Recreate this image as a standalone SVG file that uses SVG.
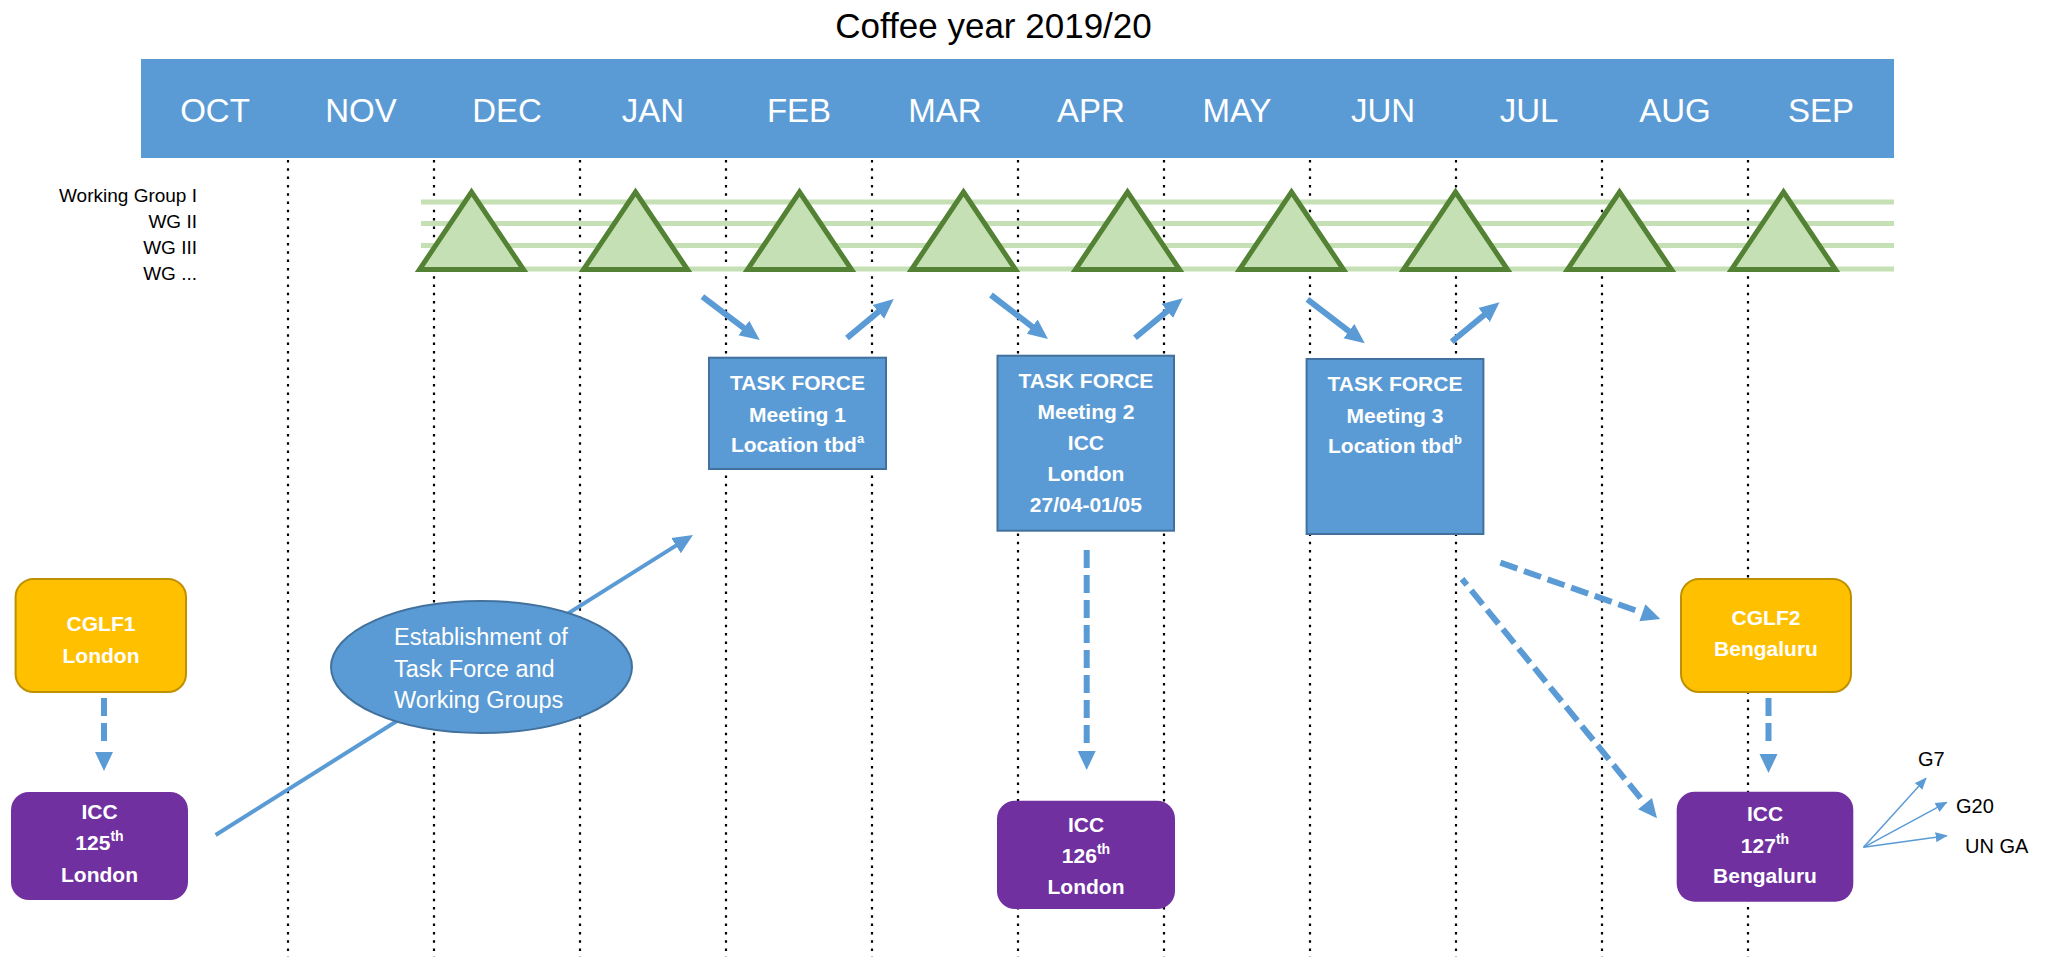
<svg xmlns="http://www.w3.org/2000/svg" width="2048" height="957" viewBox="0 0 2048 957">
<style>
text{font-family:"Liberation Sans",Arial,sans-serif}
.t{font-size:35px;fill:#000}
.m{font-size:33px;fill:#fff;text-anchor:middle}
.wg{font-size:19px;fill:#000;text-anchor:end}
.dot{stroke:#000;stroke-width:2.2;stroke-dasharray:2.5 5.8;fill:none}
.gl{stroke:#C5E0B4;stroke-width:5;fill:none}
.tri{fill:#C5E0B4;stroke:#548235;stroke-width:5;stroke-linejoin:miter}
.bx{font-size:21px;font-weight:bold;fill:#fff;text-anchor:middle}
.el{font-size:23.5px;fill:#fff}
.lab{font-size:20px;fill:#000}
.sa{stroke:#5B9BD5;stroke-width:6;fill:none;marker-end:url(#ah)}
.la{stroke:#5B9BD5;stroke-width:4;fill:none;marker-end:url(#ah)}
.da{stroke:#5B9BD5;stroke-width:6;fill:none;stroke-dasharray:18 7;marker-end:url(#dh)}
.ta{stroke:#5B9BD5;stroke-width:1.5;fill:none;marker-end:url(#th)}
.tf{fill:#5B9BD5;stroke:#41719C;stroke-width:2}
.icc{fill:#7030A0}
.cg{fill:#FFC000;stroke:#BF9000;stroke-width:2}
</style>
<defs>
<marker id="ah" markerUnits="userSpaceOnUse" viewBox="0 0 20 20" markerWidth="20" markerHeight="20" refX="6" refY="10" orient="auto">
<path d="M0,1 L20,10 L0,19 z" fill="#5B9BD5"/>
</marker>
<marker id="dh" markerUnits="userSpaceOnUse" viewBox="0 0 26 20" markerWidth="26" markerHeight="20" refX="0" refY="10" orient="auto">
<path d="M7,1 L26,10 L7,19 z" fill="#5B9BD5"/>
</marker>
<marker id="th" markerUnits="userSpaceOnUse" viewBox="0 0 12 10" markerWidth="12" markerHeight="10" refX="11" refY="5" orient="auto">
<path d="M0,0 L12,5 L0,10 z" fill="#5B9BD5"/>
</marker>
</defs>
<rect width="2048" height="957" fill="#fff"/>
<text class="t" x="993.5" y="37.5" text-anchor="middle">Coffee year 2019/20</text>
<g id="timeline">
<rect x="141" y="59" width="1753" height="99" fill="#5B9BD5"/>
<text class="m" x="215" y="121.5">OCT</text>
<text class="m" x="361" y="121.5">NOV</text>
<text class="m" x="507" y="121.5">DEC</text>
<text class="m" x="653" y="121.5">JAN</text>
<text class="m" x="799" y="121.5">FEB</text>
<text class="m" x="945" y="121.5">MAR</text>
<text class="m" x="1091" y="121.5">APR</text>
<text class="m" x="1237" y="121.5">MAY</text>
<text class="m" x="1383" y="121.5">JUN</text>
<text class="m" x="1529" y="121.5">JUL</text>
<text class="m" x="1675" y="121.5">AUG</text>
<text class="m" x="1821" y="121.5">SEP</text>
</g>
<g id="gridlines">
<line class="dot" x1="288" y1="160" x2="288" y2="957"/>
<line class="dot" x1="434" y1="160" x2="434" y2="957"/>
<line class="dot" x1="580" y1="160" x2="580" y2="957"/>
<line class="dot" x1="726" y1="160" x2="726" y2="957"/>
<line class="dot" x1="872" y1="160" x2="872" y2="957"/>
<line class="dot" x1="1018" y1="160" x2="1018" y2="957"/>
<line class="dot" x1="1164" y1="160" x2="1164" y2="957"/>
<line class="dot" x1="1310" y1="160" x2="1310" y2="957"/>
<line class="dot" x1="1456" y1="160" x2="1456" y2="957"/>
<line class="dot" x1="1602" y1="160" x2="1602" y2="957"/>
<line class="dot" x1="1748" y1="160" x2="1748" y2="957"/>
</g>
<g id="working-groups">
<text class="wg" x="197" y="202">Working Group I</text>
<text class="wg" x="197" y="228">WG II</text>
<text class="wg" x="197" y="254">WG III</text>
<text class="wg" x="197" y="280">WG ...</text>
<line class="gl" x1="421" y1="202" x2="1894" y2="202"/>
<line class="gl" x1="421" y1="223.5" x2="1894" y2="223.5"/>
<line class="gl" x1="421" y1="245.5" x2="1894" y2="245.5"/>
<line class="gl" x1="421" y1="269" x2="1894" y2="269"/>
<polygon class="tri" points="471.5,192 523.5,269.5 419.5,269.5"/>
<polygon class="tri" points="635.5,192 687.5,269.5 583.5,269.5"/>
<polygon class="tri" points="799.5,192 851.5,269.5 747.5,269.5"/>
<polygon class="tri" points="963.5,192 1015.5,269.5 911.5,269.5"/>
<polygon class="tri" points="1127.5,192 1179.5,269.5 1075.5,269.5"/>
<polygon class="tri" points="1291.5,192 1343.5,269.5 1239.5,269.5"/>
<polygon class="tri" points="1455.5,192 1507.5,269.5 1403.5,269.5"/>
<polygon class="tri" points="1619.5,192 1671.5,269.5 1567.5,269.5"/>
<polygon class="tri" points="1783.5,192 1835.5,269.5 1731.5,269.5"/>
</g>
<g id="connectors">
<line class="sa" x1="702.4" y1="296.7" x2="748.6" y2="331.6"/>
<line class="sa" x1="847" y1="338" x2="883" y2="308"/>
<line class="sa" x1="991" y1="295" x2="1036.9" y2="330.4"/>
<line class="sa" x1="1135" y1="337.7" x2="1171.9" y2="307.2"/>
<line class="sa" x1="1307.4" y1="299.3" x2="1353.7" y2="334.8"/>
<line class="sa" x1="1451.7" y1="341.7" x2="1488.7" y2="311.2"/>
<line class="la" x1="215.6" y1="835" x2="681.1" y2="542.4"/>
<line class="da" x1="104" y1="698" x2="104" y2="745"/>
<line class="da" x1="1086.7" y1="550" x2="1086.7" y2="744"/>
<line class="da" x1="1768.5" y1="698" x2="1768.5" y2="747"/>
<line class="da" x1="1500.4" y1="562.7" x2="1635.8" y2="610.4"/>
<line class="da" x1="1462" y1="579" x2="1640.6" y2="798.2" stroke-dashoffset="10.3"/>
<line class="ta" x1="1863.5" y1="847.3" x2="1926" y2="778.3"/>
<line class="ta" x1="1863.5" y1="847.3" x2="1946.7" y2="802.3"/>
<line class="ta" x1="1863.5" y1="847.3" x2="1946.7" y2="835.7"/>
</g>
<g id="tf1">
<rect class="tf" x="709" y="357.7" width="177" height="111.3"/>
<text class="bx" x="797.5" y="390">TASK FORCE</text>
<text class="bx" x="797.5" y="421.7">Meeting 1</text>
<text class="bx" x="797.5" y="452">Location tbd<tspan font-size="13" dy="-9">a</tspan></text>
</g>
<g id="tf2">
<rect class="tf" x="997.5" y="355.7" width="176.5" height="175"/>
<text class="bx" x="1085.9" y="388">TASK FORCE</text>
<text class="bx" x="1085.9" y="419">Meeting 2</text>
<text class="bx" x="1085.9" y="450">ICC</text>
<text class="bx" x="1085.9" y="481">London</text>
<text class="bx" x="1085.9" y="511.7">27/04-01/05</text>
</g>
<g id="tf3">
<rect class="tf" x="1306.6" y="359" width="176.8" height="175"/>
<text class="bx" x="1395" y="390.7">TASK FORCE</text>
<text class="bx" x="1395" y="422.7">Meeting 3</text>
<text class="bx" x="1395" y="453">Location tbd<tspan font-size="13" dy="-9">b</tspan></text>
</g>
<g id="cglf1">
<rect class="cg" x="15.6" y="579" width="170.4" height="113" rx="18"/>
<text class="bx" x="101" y="630.7">CGLF1</text>
<text class="bx" x="101" y="662.7">London</text>
</g>
<g id="icc125">
<rect class="icc" x="11" y="792" width="177" height="108" rx="18"/>
<text class="bx" x="99.5" y="819">ICC</text>
<text class="bx" x="99.5" y="850">125<tspan font-size="14" dy="-9">th</tspan></text>
<text class="bx" x="99.5" y="881.7">London</text>
</g>
<g id="establishment">
<ellipse cx="481.5" cy="667" rx="150.5" ry="66" fill="#5B9BD5" stroke="#41719C" stroke-width="2"/>
<text class="el" x="394" y="645">Establishment of</text>
<text class="el" x="394" y="676.7">Task Force and</text>
<text class="el" x="394" y="707.7">Working Groups</text>
</g>
<g id="icc126">
<rect class="icc" x="997" y="800.7" width="178" height="108.3" rx="18"/>
<text class="bx" x="1086" y="831.7">ICC</text>
<text class="bx" x="1086" y="862.7">126<tspan font-size="14" dy="-9">th</tspan></text>
<text class="bx" x="1086" y="894">London</text>
</g>
<g id="cglf2">
<rect class="cg" x="1681" y="579" width="170" height="113" rx="18"/>
<text class="bx" x="1766" y="625">CGLF2</text>
<text class="bx" x="1766" y="656">Bengaluru</text>
</g>
<g id="icc127">
<rect class="icc" x="1676.7" y="791.7" width="176.6" height="110" rx="18"/>
<text class="bx" x="1765" y="821">ICC</text>
<text class="bx" x="1765" y="853.3">127<tspan font-size="14" dy="-9">th</tspan></text>
<text class="bx" x="1765" y="883.3">Bengaluru</text>
</g>
<g id="outputs">
<text class="lab" x="1918" y="765.7">G7</text>
<text class="lab" x="1956" y="813.3">G20</text>
<text class="lab" x="1965" y="853.3">UN GA</text>
</g>
</svg>
